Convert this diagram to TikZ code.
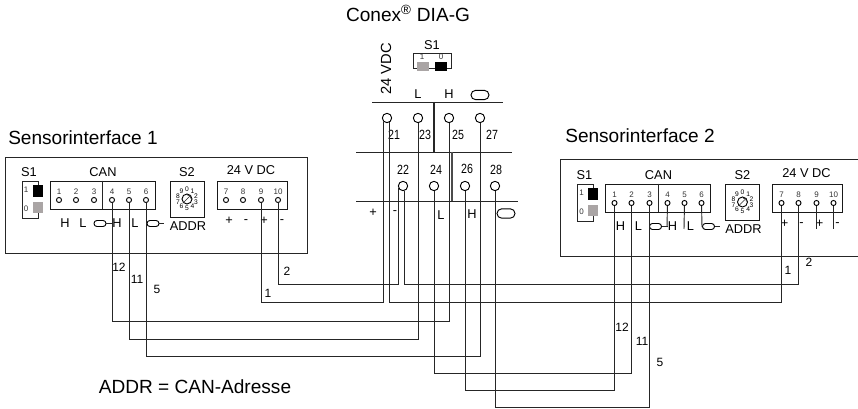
\documentclass[tikz,border=0pt]{standalone}
\usepackage{fontspec}
\usepackage{tikz}
\setmainfont{Liberation Sans}
\newfontfamily\blockfont[FakeStretch=0.8]{Liberation Sans}

\newcommand{\sensorparts}[1]{
  \node[small] (#1s1) at (29,172) {S1};
  \node[small] (#1can) at (103,172) {CAN};
  \node[small] (#1s2) at (187,172) {S2};
  \node[small] (#1dc) at (251,170.5) {24 V DC};
  \node[small] (#1addr) at (188,226) {ADDR};

  \draw[frame] (38,197) -- (38,181) -- (22,181) -- (22,218) -- (38,218) -- (38,202);
  \node[switch, fill=black] (#1on) at (37.5,191) {};
  \node[switch, fill=swgray] (#1off) at (37.5,207.5) {};
  \node[tiny] (#1one) at (26,190) {1};
  \node[tiny] (#1zero) at (26,209) {0};

  \node[block, minimum width=78.75pt] (#1canbox) at (102.5,195) {};
  \draw[frame] (#1canbox.north) -- (#1canbox.south);
  \node[term, label={[tiny]above:1}] (#1t1) at (59,200) {};
  \node[term, label={[tiny]above:2}] (#1t2) at (76,200) {};
  \node[term, label={[tiny]above:3}] (#1t3) at (94,200) {};
  \node[term, label={[tiny]above:4}] (#1t4) at (112,200) {};
  \node[term, label={[tiny]above:5}] (#1t5) at (129,200) {};
  \node[term, label={[tiny]above:6}] (#1t6) at (146,200) {};

  \node[block, minimum width=52.5pt] (#1dcbox) at (252,195) {};
  \node[term, label={[tiny]above:7}] (#1t7) at (226,200) {};
  \node[term, label={[tiny]above:8}] (#1t8) at (243,200) {};
  \node[term, label={[tiny]above:9}] (#1t9) at (261,200) {};
  \node[term, label={[tiny]above:10}] (#1t10) at (278,200) {};

  \node[block, minimum width=25.5pt, minimum height=27pt] (#1s2box) at (187,199) {};
  \node[dial] (#1dial) at (187,199) {};
  \draw[line width=0.5pt, black!85, -to] (#1dial.225) -- (#1dial.45);
  \node[micro] (#1d0) at (187,189.5) {0};
  \node[micro] (#1d1) at (192.6,191.3) {1};
  \node[micro] (#1d2) at (196,196.1) {2};
  \node[micro] (#1d3) at (196,201.9) {3};
  \node[micro] (#1d4) at (192.6,206.7) {4};
  \node[micro] (#1d5) at (187,208.5) {5};
  \node[micro] (#1d6) at (181.4,206.7) {6};
  \node[micro] (#1d7) at (178,201.9) {7};
  \node[micro] (#1d8) at (178,196.1) {8};
  \node[micro] (#1d9) at (181.4,191.3) {9};

  \node[small] (#1h1) at (65,223) {H};
  \node[small] (#1l1) at (83,223) {L};
  \node[small] (#1h2) at (117,223) {H};
  \node[small] (#1l2) at (135,223) {L};
  \node[oblong] (#1ob1) at (100,223.5) {};
  \node[oblong] (#1ob2) at (153,223.5) {};
  \coordinate (#1ob2end) at (164,223.5);
  \draw[frame] (#1ob1) -- (#1t4 |- #1ob1);
  \draw[frame] (#1ob2) -- (#1ob2end);

  \node[small] (#1plus1) at (229,221) {+};
  \node[small] (#1minus1) at (246,222) {-};
  \node[small] (#1plus2) at (264,221) {+};
  \node[small] (#1minus2) at (282,222) {-};
}

\begin{document}
\begin{tikzpicture}[x=0.75pt, y=-0.75pt,
  frame/.style={line width=0.7pt, black!85},
  wire/.style={line width=0.7pt, black!85},
  small/.style={font=\fontsize{9.6pt}{10pt}\selectfont, inner sep=0pt},
  tiny/.style={font=\fontsize{6pt}{7pt}\selectfont, inner sep=0pt, label distance=1.5pt, text=black!80},
  micro/.style={font=\fontsize{5pt}{6pt}\selectfont, inner sep=0pt},
  title/.style={font=\fontsize{14.3pt}{16pt}\selectfont, inner sep=0pt},
  wireno/.style={font=\fontsize{9pt}{10pt}\selectfont, inner sep=0pt},
  blockno/.style={font=\blockfont\fontsize{10pt}{11pt}\selectfont, inner sep=0pt},
  block/.style={draw, line width=0.7pt, black!90, minimum height=21pt, inner sep=0pt},
  switch/.style={minimum width=7.5pt, minimum height=8.5pt, inner sep=0pt},
  term/.style={circle, draw, line width=0.7pt, minimum size=3.8pt, inner sep=0pt},
  bigterm/.style={circle, draw, line width=0.7pt, minimum size=7pt, inner sep=0pt},
  dial/.style={circle, draw, line width=0.7pt, minimum size=7.5pt, inner sep=0pt},
  oblong/.style={draw, line width=0.7pt, rounded corners=2.2pt, minimum width=9pt, minimum height=4.5pt, inner sep=0pt},
  bigoblong/.style={draw, line width=0.7pt, rounded corners=3.5pt, minimum width=13.5pt, minimum height=7pt, inner sep=0pt},
  outline/.style={line width=0.6pt, black!85}]
  \definecolor{swgray}{RGB}{170,165,165}

  \useasboundingbox (0,0) rectangle (858,409);

  \node[title] (conex) at (408,13) {Conex\textsuperscript{\textregistered} DIA-G};
  \node[title] (sensor1) at (83,138) {Sensorinterface 1};
  \node[title] (sensor2) at (640,136) {Sensorinterface 2};
  \node[title] (legend) at (195,387) {ADDR = CAN-Adresse};

  \node[rotate=90, font=\fontsize{11pt}{12pt}\selectfont, inner sep=0pt] (vdc) at (386,69) {24 VDC};
  \node[small] (cs1) at (432,45) {S1};
  \node[tiny] (cone) at (422,57) {1};
  \node[tiny] (czero) at (441,57) {0};
  \draw[frame] (417,68) -- (413,68) -- (413,53) -- (451,53) -- (451,68) -- (447,68);
  \draw[frame] (429,68) -- (435,68);
  \node[switch, fill=swgray, minimum width=9pt, minimum height=7pt] (coff) at (423,66.5) {};
  \node[switch, fill=black, minimum width=9pt, minimum height=7pt] (con) at (441,66.5) {};

  \node[small] (cl1) at (418,94) {L};
  \node[small] (ch1) at (449,94) {H};
  \node[bigoblong] (cob1) at (480,95) {};
  \node[small] (cplus) at (373,213) {+};
  \node[small] (cminus) at (395,213) {-};
  \node[small] (cl2) at (441,215) {L};
  \node[small] (ch2) at (472,214) {H};
  \node[bigoblong] (cob2) at (506,213.5) {};

  \coordinate (railaw) at (372,102);
  \coordinate (railae) at (503,102);
  \coordinate (railbw) at (356,152);
  \coordinate (railbe) at (512,152);
  \coordinate (railcw) at (356,201);
  \coordinate (railce) at (518,201);
  \draw[frame] (railaw) -- (railae);
  \draw[frame] (railbw) -- (railbe);
  \draw[frame] (railcw) -- (railce);
  \draw[line width=1pt, black!85] (railaw -| 434,0) -- (railbw -| 434,0);
  \draw[line width=1pt, black!70] (railbw -| 452,0) -- (railcw -| 452,0);

  \node[bigterm] (k21) at (387,118) {};
  \node[bigterm] (k23) at (418,118) {};
  \node[bigterm] (k25) at (449,118) {};
  \node[bigterm] (k27) at (480,118) {};
  \node[bigterm] (k22) at (403,186) {};
  \node[bigterm] (k24) at (434,186) {};
  \node[bigterm] (k26) at (465,186) {};
  \node[bigterm] (k28) at (495,186) {};

  \node[blockno] (n21) at (394,135) {21};
  \node[blockno] (n23) at (425,135) {23};
  \node[blockno] (n25) at (458,135) {25};
  \node[blockno] (n27) at (492,135) {27};
  \node[blockno] (n22) at (403,170) {22};
  \node[blockno] (n24) at (436,170) {24};
  \node[blockno] (n26) at (467,169) {26};
  \node[blockno] (n28) at (496,170) {28};

  \sensorparts{a}
  \draw[outline] (5,157) rectangle (307,253);

  \begin{scope}[shift={(555.5,3)}]
    \sensorparts{b}
  \end{scope}
  \draw[outline] (858,159) -- (560,159) -- (560,256) -- (858,256);
  \coordinate (stub4) at (667,227);
  \coordinate (stub5) at (684,229);
  \coordinate (stub6) at (702,227);
  \coordinate (stub9) at (816.5,229);
  \coordinate (stub10) at (833.5,229);
  \draw[wire] (bt4) -- (stub4);
  \draw[wire] (bt5) -- (stub5);
  \draw[wire] (bt6) -- (stub6);
  \draw[wire] (bt9) -- (stub9);
  \draw[wire] (bt10) -- (stub10);

  \coordinate (c1) at (k21.-135 |- 0,302);
  \coordinate (c2) at (k22.-160 |- 0,284);
  \coordinate (d1) at (k21.-60 |- 0,302);
  \coordinate (d2) at (k22.-75 |- 0,284);
  \coordinate (c12) at (k25 |- 0,321);
  \coordinate (c11) at (k23 |- 0,339);
  \coordinate (c5) at (k27 |- 0,356);
  \coordinate (d12) at (k26 |- 0,390);
  \coordinate (d11) at (k24 |- 0,373);
  \coordinate (d5) at (k28 |- 0,407);

  \draw[wire] (at9) |- (c1) -- (k21.-135);
  \draw[wire] (at10) |- (c2) -- (k22.-160);
  \draw[wire] (bt7) |- (d1) -- (k21.-60);
  \draw[wire] (bt8) |- (d2) -- (k22.-75);
  \draw[wire] (at4) |- (c12) -- (k25);
  \draw[wire] (at5) |- (c11) -- (k23);
  \draw[wire] (at6) |- (c5) -- (k27);
  \draw[wire] (bt1) |- (d12) -- (k26);
  \draw[wire] (bt2) |- (d11) -- (k24);
  \draw[wire] (bt3) |- (d5) -- (k28);

  \node[wireno] (la12) at (119,267) {12};
  \node[wireno] (la11) at (137,279) {11};
  \node[wireno] (la5) at (157,289) {5};
  \node[wireno] (la2) at (287,271) {2};
  \node[wireno] (la1) at (268,293) {1};
  \node[wireno] (lb12) at (622,327) {12};
  \node[wireno] (lb11) at (642,341) {11};
  \node[wireno] (lb5) at (660,362) {5};
  \node[wireno] (lb1) at (788,270) {1};
  \node[wireno] (lb2) at (809,262) {2};
\end{tikzpicture}
\end{document}
